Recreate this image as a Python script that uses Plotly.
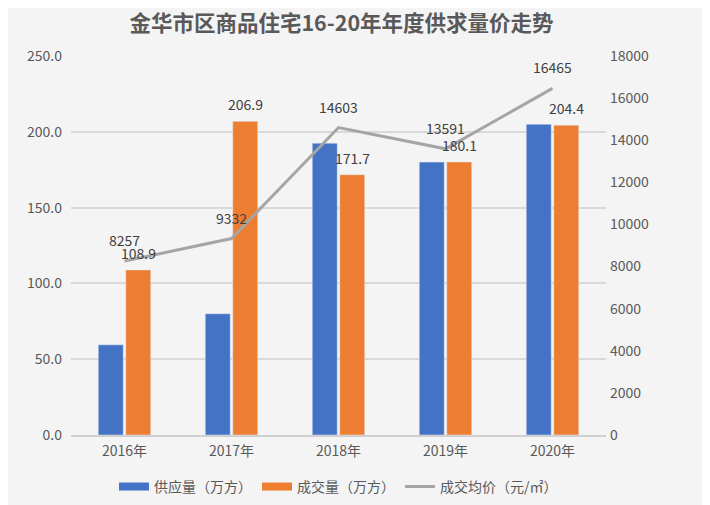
import plotly.graph_objects as go

years = ["2016年", "2017年", "2018年", "2019年", "2020年"]
supply = [59.5, 80.0, 192.5, 180.0, 205.0]
deals = [108.9, 206.9, 171.7, 180.1, 204.4]
price = [8257, 9332, 14603, 13591, 16465]
left_ticks = [0, 50, 100, 150, 200, 250]
right_ticks = [0, 2000, 4000, 6000, 8000, 10000, 12000, 14000, 16000, 18000]

FONT = "Noto Sans CJK SC, Microsoft YaHei, sans-serif"
TXT = "#595959"
LBL = "#404040"
BLUE = "#4472c4"
ORANGE = "#ed7d31"
GRAY = "#a5a5a5"

fig = go.Figure()
fig.add_trace(go.Bar(x=years, y=supply, name="供应量（万方）", marker_color=BLUE,
                     showlegend=False))
fig.add_trace(go.Bar(x=years, y=deals, name="成交量（万方）", marker_color=ORANGE,
                     showlegend=False))
fig.add_trace(go.Scatter(x=years, y=price, name="成交均价（元/㎡）", yaxis="y2",
                         mode="lines", line=dict(color=GRAY, width=3), showlegend=False))

# legend entries (wide rectangles like the original)
fig.add_trace(go.Scatter(x=[None], y=[None], mode="lines", name="供应量（万方）",
                         line=dict(color=BLUE, width=8)))
fig.add_trace(go.Scatter(x=[None], y=[None], mode="lines", name="成交量（万方）",
                         line=dict(color=ORANGE, width=8)))
fig.add_trace(go.Scatter(x=[None], y=[None], mode="lines", name="成交均价（元/㎡）",
                         line=dict(color=GRAY, width=3)))

annotations = []
for yr, v in zip(years, deals):
    annotations.append(dict(x=yr, y=v, xref="x", yref="y", text=f"{v:.1f}",
                            showarrow=False, xshift=14, yshift=17,
                            yanchor="middle", xanchor="center",
                            font=dict(size=14, color=LBL, family=FONT)))
for yr, v in zip(years, price):
    annotations.append(dict(x=yr, y=v, xref="x", yref="y2", text=str(v),
                            showarrow=False, yshift=21,
                            yanchor="middle", xanchor="center",
                            font=dict(size=14, color=LBL, family=FONT)))

fig.update_layout(
    width=710, height=505,
    paper_bgcolor="#f4f4f4", plot_bgcolor="#f4f4f4",
    font=dict(family=FONT, color=TXT, size=14),
    title=dict(text="<b>金华市区商品住宅16-20年年度供求量价走势</b>",
               x=0.4697, xanchor="center", y=0.97, yanchor="middle",
               font=dict(size=21.5, color="#595959", family=FONT)),
    margin=dict(l=63, r=112, t=48, b=78, autoexpand=False),
    barmode="group", bargap=0.486, bargroupgap=0.09,
    showlegend=True,
    legend=dict(orientation="h", x=0.5, xanchor="center", y=-0.137, yanchor="middle",
                font=dict(size=14, color=TXT), bgcolor="rgba(0,0,0,0)",
                traceorder="normal", itemwidth=30),
    xaxis=dict(showgrid=False, showline=True, linecolor="#d0d0d0", linewidth=2,
               ticks="", tickfont=dict(size=14, color=TXT), automargin=False,
               ticklabelstandoff=2),
    yaxis=dict(range=[0, 250], tickvals=left_ticks, tickformat=".1f",
               showgrid=True, gridcolor="#d9d9d9", gridwidth=1.5,
               zeroline=False, showline=False, ticks="", ticklen=0,
               tickfont=dict(size=14, color=TXT), automargin=False,
               ticklabelstandoff=8),
    yaxis2=dict(range=[0, 18000], tickvals=right_ticks, tickformat="d",
                overlaying="y", side="right",
                showgrid=False, zeroline=False, showline=False,
                tickfont=dict(size=14, color=TXT), automargin=False,
                ticklabelstandoff=3),
    annotations=annotations,
)

fig.write_html("out.html")
